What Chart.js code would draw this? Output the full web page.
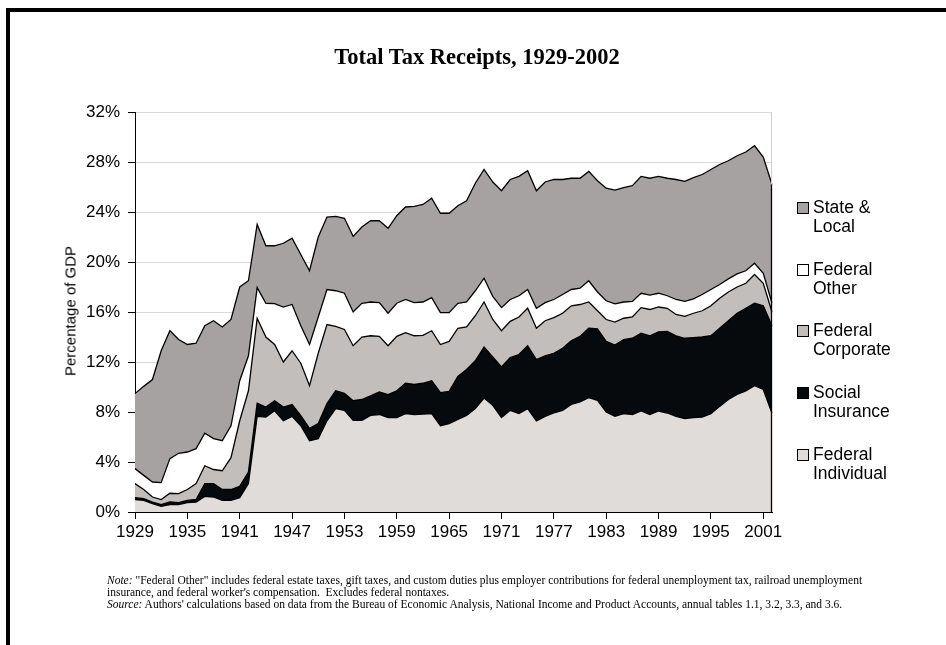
<!DOCTYPE html>
<html>
<head>
<meta charset="utf-8">
<title>Total Tax Receipts, 1929-2002</title>
<script src="https://cdn.jsdelivr.net/npm/chart.js@4.4.0/dist/chart.umd.min.js"></script>
<style>
  html, body { margin: 0; padding: 0; background: #fff; }
  body { width: 946px; height: 645px; position: relative; overflow: hidden; font-family: "Liberation Sans", Arial, sans-serif; }
  #chart { position: absolute; left: 0; top: 0; }
  .frame-top { position: absolute; left: 6px; top: 8px; width: 940px; height: 4px; background: #000; }
  .frame-left { position: absolute; left: 6px; top: 8px; width: 4px; height: 637px; background: #000; }
  #title { position: absolute; left: 0; width: 954px; top: 44px; text-align: center; font: bold 22.5px "Liberation Serif", "Times New Roman", serif; line-height: 26px; color: #000; }
  #ytitle { position: absolute; left: 70px; top: 311px; transform: translate(-50%, -50%) rotate(-90deg); font-size: 15px; white-space: nowrap; color: #000; }
  #legend { position: absolute; left: 797px; top: 0; }
  .item { position: absolute; left: 0; width: 120px; }
  .swatch { position: absolute; left: 0; width: 10px; height: 10px; border: 1px solid #000; }
  .label { position: absolute; left: 16px; font-size: 17.5px; line-height: 19px; color: #000; white-space: nowrap; }
  #notes { position: absolute; left: 107px; top: 574px; font: 11.5px "Liberation Serif", "Times New Roman", serif; line-height: 12px; color: #000; white-space: nowrap; }
  #notes i { font-style: italic; }
</style>
</head>
<body>
<div class="frame-top"></div>
<div class="frame-left"></div>
<canvas id="chart" width="946" height="645"></canvas>
<div id="title">Total Tax Receipts, 1929-2002</div>
<div id="ytitle">Percentage of GDP</div>
<div id="legend"></div>
<div id="notes"><i>Note:</i> "Federal Other" includes federal estate taxes, gift taxes, and custom duties plus employer contributions for federal unemployment tax, railroad unemployment<br>insurance, and federal worker's compensation.&nbsp; Excludes federal nontaxes.<br><i>Source:</i> Authors' calculations based on data from the Bureau of Economic Analysis, National Income and Product Accounts, annual tables 1.1, 3.2, 3.3, and 3.6.</div>
<script>
const years = [
  1929, 1930, 1931, 1932, 1933, 1934, 1935, 1936, 1937, 1938, 1939, 1940, 1941, 1942,
  1943, 1944, 1945, 1946, 1947, 1948, 1949, 1950, 1951, 1952,
  1953, 1954, 1955, 1956, 1957, 1958, 1959, 1960, 1961, 1962,
  1963, 1964, 1965, 1966, 1967, 1968, 1969, 1970, 1971, 1972,
  1973, 1974, 1975, 1976, 1977, 1978, 1979, 1980, 1981, 1982,
  1983, 1984, 1985, 1986, 1987, 1988, 1989, 1990, 1991, 1992,
  1993, 1994, 1995, 1996, 1997, 1998, 1999, 2000, 2001, 2002
];
const tickYears = [1929, 1935, 1941, 1947, 1953, 1959, 1965, 1971, 1977, 1983, 1989, 1995, 2001];
const yTicks = [0, 4, 8, 12, 16, 20, 24, 28, 32];

// % of GDP
const fedIndividual = [
  1.0, 0.93, 0.67, 0.45, 0.6, 0.6, 0.75, 0.8, 1.25, 1.2, 0.93, 0.93, 1.15, 2.27,
  7.65, 7.6, 8.1, 7.3, 7.65, 6.9, 5.7, 5.87, 7.3, 8.27,
  8.13, 7.33, 7.33, 7.73, 7.8, 7.55, 7.55, 7.87, 7.8, 7.84,
  7.87, 6.9, 7.07, 7.4, 7.73, 8.27, 9.12, 8.53, 7.55, 8.13,
  7.87, 8.27, 7.28, 7.65, 7.92, 8.13, 8.6, 8.8, 9.15, 8.93,
  8.0, 7.65, 7.87, 7.8, 8.08, 7.8, 8.08, 7.92, 7.65, 7.47,
  7.55, 7.6, 7.87, 8.45, 9.0, 9.4, 9.68, 10.1, 9.8, 7.9
];
const socialInsurance = [
  0.15, 0.14, 0.13, 0.15, 0.2, 0.15, 0.18, 0.2, 1.02, 1.07, 0.87, 0.87, 0.9, 0.93,
  1.05, 0.8, 0.8, 1.1, 0.95, 0.8, 1.0, 1.2, 1.37, 1.43,
  1.37, 1.57, 1.67, 1.57, 1.8, 1.85, 2.15, 2.43, 2.4, 2.46,
  2.63, 2.65, 2.58, 3.45, 3.67, 3.83, 4.08, 3.87, 4.05, 4.22,
  4.73, 5.03, 4.92, 4.85, 4.78, 4.97, 5.1, 5.25, 5.55, 5.72,
  5.65, 5.7, 5.93, 6.1, 6.22, 6.3, 6.32, 6.53, 6.45, 6.43,
  6.4, 6.4, 6.23, 6.25, 6.3, 6.5, 6.62, 6.6, 6.7, 7.0
];
const fedCorporate = [
  1.12, 0.73, 0.4, 0.4, 0.7, 0.72, 0.87, 1.27, 1.43, 1.13, 1.5, 2.55, 5.25, 6.5,
  6.8, 5.6, 4.5, 3.6, 4.3, 4.2, 3.4, 5.63, 6.33, 5.15,
  5.1, 4.4, 5.0, 4.8, 4.45, 3.9, 4.35, 4.05, 3.9, 3.83,
  4.0, 3.85, 4.0, 3.85, 3.4, 3.6, 3.6, 3.0, 2.9, 2.9,
  3.0, 3.0, 2.5, 2.8, 2.85, 2.8, 2.8, 2.55, 2.1, 1.45,
  1.75, 1.85, 1.7, 1.7, 2.05, 2.1, 2.0, 1.85, 1.7, 1.75,
  1.95, 2.1, 2.4, 2.4, 2.3, 2.1, 2.0, 2.3, 1.8, 1.1
];
const fedOther = [
  1.2, 1.13, 1.2, 1.35, 2.77, 3.23, 3.0, 2.8, 2.6, 2.47, 2.4, 2.55, 3.2, 2.8,
  2.45, 2.7, 3.27, 4.4, 3.7, 3.0, 3.3, 2.9, 2.8, 2.85,
  2.9, 2.7, 2.7, 2.7, 2.7, 2.6, 2.65, 2.65, 2.65, 2.67,
  2.65, 2.55, 2.3, 2.0, 2.0, 2.0, 1.9, 1.85, 1.85, 1.75,
  1.7, 1.5, 1.6, 1.45, 1.45, 1.5, 1.3, 1.3, 1.7, 1.5,
  1.5, 1.45, 1.3, 1.25, 1.15, 1.15, 1.1, 1.0, 1.2, 1.2,
  1.15, 1.3, 1.3, 1.1, 1.05, 1.05, 1.0, 0.9, 0.8, 0.7
];
const stateLocal = [
  6.0, 7.12, 8.2, 10.55, 10.23, 9.1, 8.6, 8.43, 8.6, 9.43, 9.1, 8.5, 7.5, 6.0,
  5.05, 4.6, 4.63, 5.1, 5.3, 5.7, 5.9, 6.4, 5.8, 5.95,
  6.0, 6.05, 6.1, 6.5, 6.55, 6.8, 7.0, 7.4, 7.7, 7.8,
  7.95, 7.95, 7.95, 7.8, 8.1, 8.6, 8.7, 9.15, 9.35, 9.6,
  9.55, 9.5, 9.4, 9.65, 9.6, 9.2, 8.9, 8.8, 8.75, 8.9,
  9.0, 9.1, 9.15, 9.25, 9.35, 9.35, 9.35, 9.4, 9.6, 9.6,
  9.7, 9.6, 9.6, 9.6, 9.45, 9.45, 9.5, 9.4, 9.3, 9.5
];

const seriesNames = ["Federal Individual", "Social Insurance", "Federal Corporate", "Federal Other", "State & Local"];
const seriesColors = ["#dfdcda", "#060a0d", "#c1bebb", "#ffffff", "#a7a2a2"];
const seriesData = [fedIndividual, socialInsurance, fedCorporate, fedOther, stateLocal];

const FONT = '"Liberation Sans", Arial, sans-serif';

// light plot-area edge on the right, plus the dark outline where the areas stop
const edgePlugin = {
  id: "edge",
  afterDatasetsDraw(chart) {
    const { ctx, chartArea } = chart;
    const meta = chart.getDatasetMeta(chart.data.datasets.length - 1);
    const last = meta.data[meta.data.length - 1];
    ctx.save();
    ctx.strokeStyle = "#cfcfcf";
    ctx.lineWidth = 1;
    ctx.beginPath();
    ctx.moveTo(chartArea.right - 0.5, chartArea.top);
    ctx.lineTo(chartArea.right - 0.5, last.y);
    ctx.stroke();
    ctx.strokeStyle = "#000";
    ctx.lineWidth = 1.3;
    ctx.beginPath();
    ctx.moveTo(last.x - 0.5, last.y);
    ctx.lineTo(last.x - 0.5, chartArea.bottom);
    ctx.stroke();
    ctx.restore();
  }
};

const chart = new Chart(document.getElementById("chart"), {
  type: "line",
  data: {
    labels: years,
    datasets: seriesData.map((vals, i) => ({
      label: seriesNames[i],
      data: vals,
      backgroundColor: seriesColors[i],
      borderColor: "#000",
      borderWidth: 1.3,
      pointRadius: 0,
      tension: 0,
      fill: i === 0 ? "origin" : "-1"
    }))
  },
  options: {
    responsive: false,
    animation: false,
    devicePixelRatio: 1,
    layout: { padding: { top: 112, right: 174, bottom: 0, left: 0 } },
    plugins: {
      legend: { display: false },
      tooltip: { enabled: false },
      title: { display: false }
    },
    scales: {
      x: {
        type: "category",
        offset: false,
        grid: {
          drawOnChartArea: false,
          drawTicks: true,
          tickLength: 7,
          tickWidth: 1,
          tickColor: (ctx) => (tickYears.includes(years[ctx.index]) ? "#000" : "rgba(0,0,0,0)")
        },
        border: { display: true, color: "#000", width: 1 },
        ticks: {
          autoSkip: false,
          maxRotation: 0,
          minRotation: 0,
          padding: 3,
          color: "#000",
          font: { family: FONT, size: 17 },
          callback: (val, idx) => (tickYears.includes(years[idx]) ? String(years[idx]) : "")
        },
        afterFit: (scale) => { scale.height = 133; }
      },
      y: {
        stacked: true,
        min: 0,
        max: 32,
        afterBuildTicks: (scale) => { scale.ticks = yTicks.map((v) => ({ value: v })); },
        grid: {
          color: "#d9d9d9",
          lineWidth: 1,
          tickLength: 7,
          tickColor: "#000"
        },
        border: { display: true, color: "#000", width: 1 },
        ticks: {
          padding: 8,
          color: "#000",
          font: { family: FONT, size: 17 },
          callback: (v) => v + "%"
        },
        afterFit: (scale) => { scale.width = 135; }
      }
    }
  },
  plugins: [edgePlugin]
});

// legend, top entry first as in the original
const legend = document.getElementById("legend");
chart.data.datasets.slice().reverse().forEach((ds, i) => {
  const item = document.createElement("div");
  item.className = "item";
  item.style.top = (201 + i * 61.7) + "px";
  const sw = document.createElement("div");
  sw.className = "swatch";
  sw.style.top = "1px";
  sw.style.background = ds.backgroundColor;
  const lab = document.createElement("div");
  lab.className = "label";
  lab.style.top = "-3px";
  const cut = ds.label.lastIndexOf(" ");
  lab.innerHTML = ds.label.slice(0, cut).replace("&", "&amp;") + "<br>" + ds.label.slice(cut + 1);
  item.appendChild(sw);
  item.appendChild(lab);
  legend.appendChild(item);
});
</script>
</body>
</html>
